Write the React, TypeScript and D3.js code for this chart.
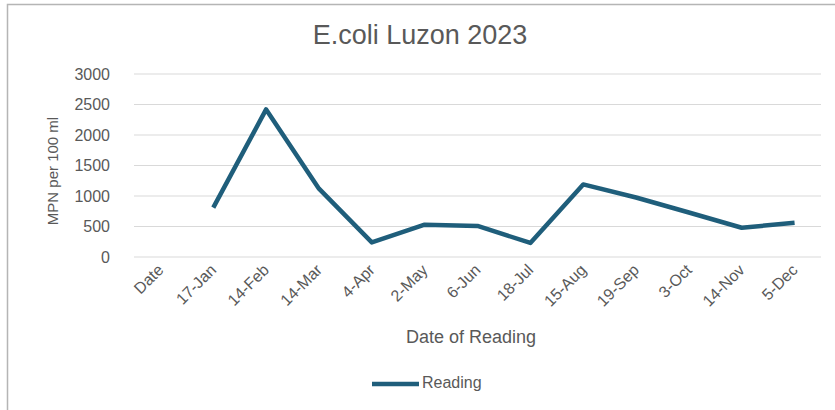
import { useEffect, useRef } from 'react';
import * as d3 from 'd3';

const categories = ['Date', '17-Jan', '14-Feb', '14-Mar', '4-Apr', '2-May', '6-Jun', '18-Jul', '15-Aug', '19-Sep', '3-Oct', '14-Nov', '5-Dec'];
const readings: (number | null)[] = [null, 810, 2420, 1120, 240, 530, 510, 230, 1190, 975, 730, 480, 560];
const yTicks = [0, 500, 1000, 1500, 2000, 2500, 3000];

const W = 835;
const H = 410;
const FONT = '"Liberation Sans", Arial, sans-serif';
const TEXT = '#595959';
const LINE = '#1f5e7b';

export default function App() {
  const svgRef = useRef<SVGSVGElement>(null);

  useEffect(() => {
    if (!svgRef.current) return;
    const svg = d3.select(svgRef.current);
    svg.selectAll('*').remove();

    const x = d3.scaleBand<string>().domain(categories).range([134, 821]);
    const y = d3.scaleLinear().domain([0, 3000]).range([257, 74]);
    const cx = (c: string) => (x(c) ?? 0) + x.bandwidth() / 2;

    // chart border (top + left only visible)
    svg.append('path')
      .attr('d', `M7.5,${H} V4.5 H${W}`)
      .attr('fill', 'none')
      .attr('stroke', '#b5b5b5')
      .attr('stroke-width', 1.5);

    // title
    svg.append('text')
      .attr('x', 420)
      .attr('y', 44)
      .attr('text-anchor', 'middle')
      .attr('font-family', FONT)
      .attr('font-size', 27)
      .attr('fill', TEXT)
      .text('E.coli Luzon 2023');

    // gridlines
    svg.append('g')
      .selectAll('line')
      .data(yTicks)
      .enter()
      .append('line')
      .attr('x1', 134)
      .attr('x2', 821)
      .attr('y1', d => y(d))
      .attr('y2', d => y(d))
      .attr('stroke', '#d9d9d9')
      .attr('stroke-width', 1);

    // y tick labels
    svg.append('g')
      .selectAll('text')
      .data(yTicks)
      .enter()
      .append('text')
      .attr('x', 110)
      .attr('y', d => y(d))
      .attr('dy', '0.36em')
      .attr('text-anchor', 'end')
      .attr('font-family', FONT)
      .attr('font-size', 16)
      .attr('fill', TEXT)
      .text(d => String(d));

    // x tick labels, rotated
    svg.append('g')
      .selectAll('text')
      .data(categories)
      .enter()
      .append('text')
      .attr('transform', d => `translate(${cx(d) + 4},${271}) rotate(-45)`)
      .attr('text-anchor', 'end')
      .attr('font-family', FONT)
      .attr('font-size', 16)
      .attr('fill', TEXT)
      .text(d => d);

    // axis titles
    svg.append('text')
      .attr('x', 471)
      .attr('y', 343)
      .attr('text-anchor', 'middle')
      .attr('font-family', FONT)
      .attr('font-size', 18)
      .attr('fill', TEXT)
      .text('Date of Reading');

    svg.append('text')
      .attr('transform', 'translate(58,171) rotate(-90)')
      .attr('text-anchor', 'middle')
      .attr('font-family', FONT)
      .attr('font-size', 15)
      .attr('fill', TEXT)
      .text('MPN per 100 ml');

    // series line
    const line = d3.line<number | null>()
      .defined(d => d !== null)
      .x((_, i) => cx(categories[i]))
      .y(d => y(d as number));

    svg.append('path')
      .datum(readings)
      .attr('d', line)
      .attr('fill', 'none')
      .attr('stroke', LINE)
      .attr('stroke-width', 4.5)
      .attr('stroke-linejoin', 'round');

    // legend
    svg.append('line')
      .attr('x1', 372)
      .attr('x2', 419)
      .attr('y1', 384)
      .attr('y2', 384)
      .attr('stroke', LINE)
      .attr('stroke-width', 4.5);

    svg.append('text')
      .attr('x', 422)
      .attr('y', 388)
      .attr('font-family', FONT)
      .attr('font-size', 16)
      .attr('fill', TEXT)
      .text('Reading');
  }, []);

  return (
    <svg
      ref={svgRef}
      width={W}
      height={H}
      style={{ position: 'absolute', left: 0, top: 0, background: '#fff' }}
    />
  );
}
